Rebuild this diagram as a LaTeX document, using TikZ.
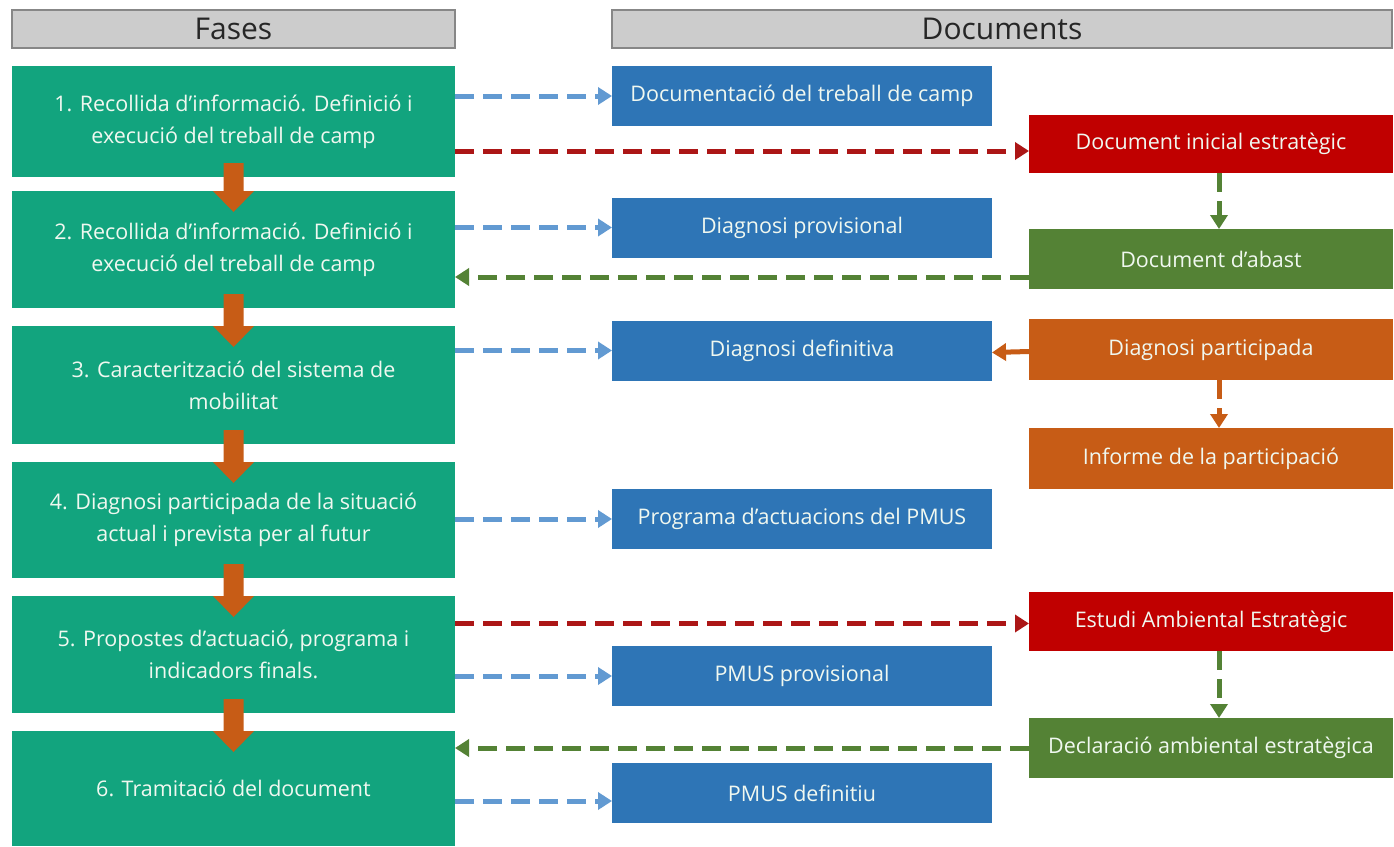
\documentclass[tikz,border=0pt]{standalone}
\usepackage{fontspec}
\setmainfont{Open Sans}
\usetikzlibrary{arrows.meta,calc}
\definecolor{teal}{RGB}{18,164,126}
\definecolor{hdrgray}{RGB}{204,204,204}
\definecolor{hdrline}{RGB}{135,135,135}
\definecolor{docblue}{RGB}{46,117,182}
\definecolor{lblue}{RGB}{98,154,210}
\definecolor{dred}{RGB}{192,0,0}
\definecolor{lred}{RGB}{172,22,22}
\definecolor{dgreen}{RGB}{84,130,53}
\definecolor{dorange}{RGB}{199,92,22}
\definecolor{txtwhite}{RGB}{240,248,240}
\tikzset{
  box/.style={rectangle, inner sep=0pt, outer sep=0pt, text=txtwhite, align=center,
    font=\fontsize{21.5}{32}\selectfont},
  hdr/.style={rectangle, inner sep=0pt, outer sep=0pt, fill=hdrgray, draw=hdrline, line width=1.2pt,
    text=black!85, font=\fontsize{30}{34}\selectfont, minimum height=38pt},
  fase/.style={box, fill=teal, minimum width=443pt},
  docb/.style={box, fill=docblue, minimum width=380pt, minimum height=60pt},
  docr/.style={box, minimum width=364pt},
  dashedarr/.style={line width=5pt, dash pattern=on 19pt off 9pt, -{Triangle[length=14pt,width=17pt]}},
  bluearr/.style={dashedarr, draw=lblue},
  redarr/.style={dashedarr, draw=lred},
  greenarr/.style={dashedarr, draw=dgreen},
  orangearr/.style={dashedarr, draw=dorange},
  downarr/.style={fill=dorange}
}
\begin{document}
\begin{tikzpicture}[x=1pt,y=-1pt]
\useasboundingbox (0,0) rectangle (1394,846);
\fill[white] (0,0) rectangle (1394,846);
% headers
\node[hdr, minimum width=443pt] (hf) at (233.5,29) {Fases};
\node[hdr, minimum width=780pt] (hd) at (1002,29) {Documents};
% phases
\node[fase, minimum height=111pt] (g1) at (233.5,121.5) {1. Recollida d’informació. Definició i\\execució del treball de camp};
\node[fase, minimum height=117pt] (g2) at (233.5,249.5) {2. Recollida d’informació. Definició i\\execució del treball de camp};
\node[fase, minimum height=118pt] (g3) at (233.5,385) {3. Caracterització del sistema de\\mobilitat};
\node[fase, minimum height=116pt] (g4) at (233.5,520) {4. Diagnosi participada de la situació\\actual i prevista per al futur};
\node[fase, minimum height=117pt] (g5) at (233.5,654.5) {5. Propostes d’actuació, programa i\\indicadors finals.};
\node[fase, minimum height=115pt] (g6) at (233.5,788.5) {6. Tramitació del document};
% blue documents
\node[docb] (b1) at (802,96) {Documentació del treball de camp};
\node[docb] (b2) at (802,227.5) {Diagnosi provisional};
\node[docb] (b3) at (802,350.5) {Diagnosi definitiva};
\node[docb] (b4) at (802,519) {Programa d’actuacions del PMUS};
\node[docb] (b5) at (802,676) {PMUS provisional};
\node[docb] (b6) at (802,793) {PMUS definitiu};
% right documents
\node[docr, fill=dred, minimum height=58pt] (r1) at (1211,144) {Document inicial estratègic};
\node[docr, fill=dgreen, minimum height=60pt] (v1) at (1211,259) {Document d’abast};
\node[docr, fill=dorange, minimum height=61pt] (o1) at (1211,349.5) {Diagnosi participada};
\node[docr, fill=dorange, minimum height=61pt] (o2) at (1211,458.5) {Informe de la participació};
\node[docr, fill=dred, minimum height=59pt] (r2) at (1211,621.5) {Estudi Ambiental Estratègic};
\node[docr, fill=dgreen, minimum height=60pt] (v2) at (1211,748) {Declaració ambiental estratègica};
% orange down block arrows between phases
\foreach \a/\b in {g1/g2,g2/g3,g3/g4,g4/g5,g5/g6}{
  \fill[downarr] ($(\a.south)+(-10,-14)$) -- ($(\b.north)+(-10,0)$) -- ($(\b.north)+(-20.5,0)$)
    -- ($(\b.north)+(0,21)$) -- ($(\b.north)+(20.5,0)$) -- ($(\b.north)+(10,0)$)
    -- ($(\a.south)+(10,-14)$) -- cycle;
}
% blue dashed arrows
\draw[bluearr] (g1.east |- b1.west) -- (b1.west);
\draw[bluearr] (g2.east |- b2.west) -- (b2.west);
\draw[bluearr] (g3.east |- b3.west) -- (b3.west);
\draw[bluearr] (g4.east |- b4.west) -- (b4.west);
\draw[bluearr] (g5.east |- b5.west) -- (b5.west);
\coordinate (b6in) at ($(b6.west)+(0,8)$);
\draw[bluearr] (g6.east |- b6in) -- (b6in);
% red dashed arrows
\coordinate (r1in) at ($(r1.west)+(0,7)$);
\draw[redarr] (g1.east |- r1in) -- (r1in);
\coordinate (r2in) at ($(r2.west)+(0,2)$);
\draw[redarr] (g5.east |- r2in) -- (r2in);
% green dashed back arrows
\coordinate (v1out) at ($(v1.west)+(0,18)$);
\draw[greenarr] (v1out) -- (g2.east |- v1out);
\draw[greenarr] (v2.west) -- (g6.east |- v2.west);
% vertical dashed arrows
\draw[greenarr] ($(r1.south)+(8,0)$) -- ($(v1.north)+(8,0)$);
\draw[greenarr] ($(r2.south)+(8,0)$) -- ($(v2.north)+(8,0)$);
\draw[orangearr] ($(o1.south)+(8,0)$) -- ($(o2.north)+(8,0)$);
% orange short solid arrow
\draw[line width=5pt, draw=dorange, -{Triangle[length=14pt,width=17pt]}] ($(o1.west)+(0,2)$) -- ($(b3.east)+(0,2)$);
\end{tikzpicture}
\end{document}
